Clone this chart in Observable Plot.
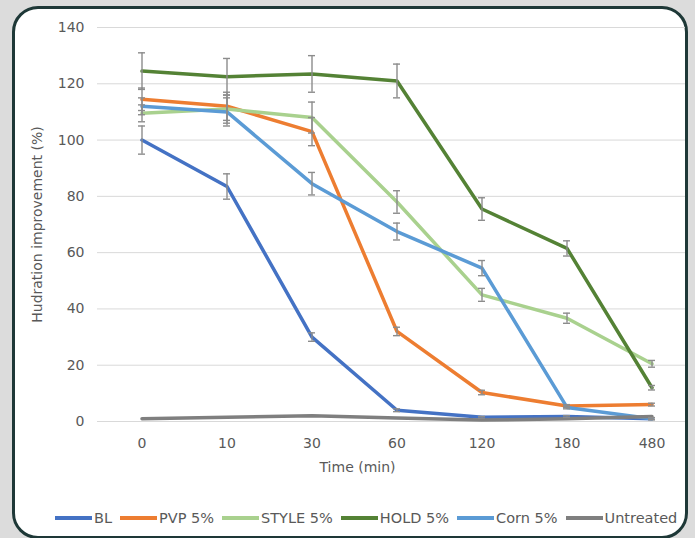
<!DOCTYPE html>
<html><head><meta charset="utf-8">
<script src="https://cdn.jsdelivr.net/npm/d3@7"></script>
<script src="https://cdn.jsdelivr.net/npm/@observablehq/plot@0.6"></script>
<style>
html,body{margin:0;padding:0;width:695px;height:538px;overflow:hidden;background:#dcdcdc;font-family:"DejaVu Sans",sans-serif;}
#panel{position:absolute;left:12px;top:6px;width:670px;height:527px;border:3px solid #1e3837;border-radius:26px;background:#fff;}
#chart{position:absolute;left:0;top:0;}
#legend{position:absolute;left:55px;top:509px;height:18px;display:flex;align-items:center;font-size:14.5px;color:#595959;white-space:nowrap;}
#legend .item{display:flex;align-items:center;margin-right:8px;}
#legend .sw{display:inline-block;width:37px;height:3.5px;margin-right:2px;}
</style></head>
<body>
<div id="panel"></div>
<div id="chart"></div>
<div id="legend"></div>
<script>
const times = ["0","10","30","60","120","180","480"];
const series = ["BL","PVP 5%","STYLE 5%","HOLD 5%","Corn 5%","Untreated"];
const colors = ["#4472c4","#ed7d31","#a9d18e","#548235","#5b9bd5","#7f7f7f"];
const yTicks = [0,20,40,60,80,100,120,140];

const bl        = [100, 83.5, 30, 4, 1.5, 1.8, 1];
const pvp       = [114.5, 112, 103, 32, 10.3, 5.5, 6];
const style     = [109.5, 111, 108, 78, 45, 36.7, 20.5];
const hold      = [124.5, 122.5, 123.5, 121, 75.5, 61.5, 12];
const corn      = [112, 110, 84.5, 67.5, 54.5, 5, 1];
const untreated = [1, 1.5, 2, 1.2, 0.5, 1, 1.8];

const blErr        = [5, 4.5, 1.5, 0.5, 0.3, 0.3, 0.3];
const pvpErr       = [4, 5, 5, 1.5, 0.8, 0.5, 0.5];
const styleErr     = [3, 5, 5.5, 4, 2.3, 1.8, 1.2];
const holdErr      = [6.5, 6.5, 6.5, 6, 4, 2.7, 0.8];
const cornErr      = [3, 5, 4, 3, 2.7, 0.5, 0.4];
const untreatedErr = [0, 0, 0, 0, 0, 0, 0];

const vals = [bl, pvp, style, hold, corn, untreated];
const errs = [blErr, pvpErr, styleErr, holdErr, cornErr, untreatedErr];

const rows = [];
series.forEach((s, i) => times.forEach((t, j) => rows.push({series: s, time: t, value: vals[i][j], err: errs[i][j]})));
const errRows = rows.filter(d => d.err > 0);

const plot = Plot.plot({
  width: 695, height: 478,
  marginLeft: 97, marginRight: 10, marginTop: 27, marginBottom: 57,
  style: {fontFamily: "DejaVu Sans, sans-serif", fontSize: "14px", color: "#595959", background: "transparent", overflow: "visible"},
  x: {type: "band", domain: times, range: [96, 697], padding: 0},
  y: {domain: [0, 140]},
  color: {domain: series, range: colors},
  marks: [
    Plot.ruleY(yTicks, {stroke: "#d9d9d9", strokeWidth: 1}),
    Plot.axisY(yTicks, {tickSize: 0, tickPadding: 13, label: "Hudration improvement (%)", labelAnchor: "center", labelArrow: "none", labelOffset: 65, fill: "#595959"}),
    Plot.axisX({tickSize: 0, tickPadding: 17, label: null, fill: "#595959"}),
    Plot.text(["Time (min)"], {frameAnchor: "bottom", text: d => d, dx: -34, dy: 46, lineAnchor: "middle", fill: "#595959"}),
    Plot.line(rows, {x: "time", y: "value", z: "series", stroke: "series", strokeWidth: 3.5, strokeLinejoin: "round", strokeLinecap: "round"}),
    Plot.ruleX(errRows, {x: "time", y1: d => d.value - d.err, y2: d => d.value + d.err, stroke: "#8c8c8c", strokeWidth: 1.4}),
    Plot.tickY(errRows, {x: "time", y: d => d.value + d.err, stroke: "#8c8c8c", strokeWidth: 1.4, insetLeft: 39, insetRight: 39}),
    Plot.tickY(errRows, {x: "time", y: d => d.value - d.err, stroke: "#8c8c8c", strokeWidth: 1.4, insetLeft: 39, insetRight: 39})
  ]
});
document.getElementById("chart").appendChild(plot);

const legend = document.getElementById("legend");
series.forEach((s, i) => {
  const item = document.createElement("span");
  item.className = "item";
  const sw = document.createElement("span");
  sw.className = "sw";
  sw.style.background = colors[i];
  item.appendChild(sw);
  item.appendChild(document.createTextNode(s));
  legend.appendChild(item);
});
</script>
</body></html>
